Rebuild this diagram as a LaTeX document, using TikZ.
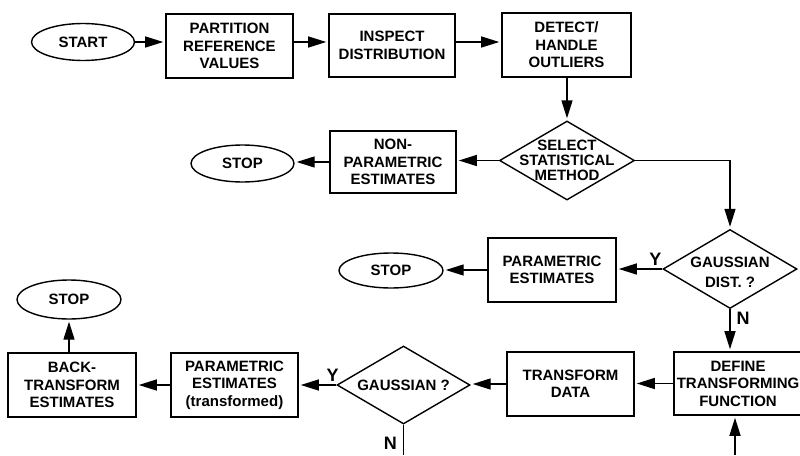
\documentclass[tikz,border=0pt]{standalone}
\usepackage{fontspec}
\setmainfont{Liberation Sans}
\usetikzlibrary{shapes.geometric,arrows.meta}
\begin{document}
\begin{tikzpicture}[x=1pt,y=-1pt,
  every node/.style={font=\bfseries\fontsize{15}{17.5}\selectfont, align=center},
  box/.style={draw, line width=1.6pt, rectangle, minimum width=127pt, minimum height=64pt, inner sep=0pt},
  oval/.style={draw, line width=1.4pt, ellipse, minimum width=103pt, minimum height=37pt, inner sep=0pt},
  dia/.style={draw, line width=1.4pt, diamond, minimum width=134pt, minimum height=79pt, inner sep=0pt},
  diatext/.style={font=\bfseries\fontsize{15}{15}\selectfont, align=center},
  arr/.style={line width=1.4pt, -{Triangle[length=18pt,width=11pt]}, shorten >=2pt},
  plain/.style={line width=1.4pt},
  lbl/.style={font=\bfseries\fontsize{18}{18}\selectfont, inner sep=1pt}
]
\useasboundingbox (0,0) rectangle (800,455);

% nodes
\node[oval] (start) at (83,42) {START};
\node[box] (part) at (229.5,46) {PARTITION\\REFERENCE\\VALUES};
\node[box, minimum width=126pt, minimum height=63pt] (insp) at (392,45.5) {INSPECT\\DISTRIBUTION};
\node[box, minimum width=129pt] (det) at (566.5,45) {DETECT/\\HANDLE\\OUTLIERS};
\node[dia, minimum width=135pt, label={[diatext]center:SELECT\\STATISTICAL\\METHOD}] (sel) at (567,160.5) {};
\node[box, minimum width=126pt, minimum height=62pt] (nonpar) at (393,162) {NON-\\PARAMETRIC\\ESTIMATES};
\node[oval] (stop1) at (242.5,163.5) {STOP};
\node[dia, label={[diatext, font=\bfseries\fontsize{15}{20}\selectfont, yshift=-3pt]center:GAUSSIAN\\DIST. ?}] (g1) at (730,269) {};
\node[box, minimum width=128pt] (par) at (552,270) {PARAMETRIC\\ESTIMATES};
\node[oval, minimum width=104pt, minimum height=35pt] (stop2) at (391,270.5) {STOP};
\node[box, minimum width=128pt, minimum height=63pt] (def) at (738,383.5) {DEFINE\\TRANSFORMING\\FUNCTION};
\node[box] (trans) at (570.5,384) {TRANSFORM\\DATA};
\node[dia, minimum width=133pt, minimum height=78pt, label={[diatext]center:GAUSSIAN ?}] (g2) at (403.5,385) {};
\node[box] (partr) at (234.5,385) {PARAMETRIC\\ESTIMATES\\(transformed)};
\node[box, minimum width=128pt] (back) at (72,385) {BACK-\\TRANSFORM\\ESTIMATES};
\node[oval, minimum width=104pt, minimum height=39pt] (stop3) at (69,299.5) {STOP};
\coordinate (g2bot) at (403.5,455);
\coordinate (defin) at (735,455);

% connectors
\draw[arr] (start.east) -- (start.east -| part.west);
\draw[arr] ([yshift=4pt]part.east) -- ([yshift=4pt]part.east -| insp.west);
\draw[arr] ([yshift=3.5pt]insp.east) -- ([yshift=3.5pt]insp.east -| det.west);
\draw[arr] (det.south -| sel.north) -- (sel.north);
\draw[arr] (sel.west) -- (sel.west -| nonpar.east);
\draw[arr] (nonpar.west) -- (nonpar.west -| stop1.east);
\draw[arr] (sel.east) -| (g1.north);
\draw[arr] (g1.west) -- node[lbl, pos=0.15, above=2pt] {Y} (g1.west -| par.east);
\draw[arr] (par.west) -- (par.west -| stop2.east);
\draw[arr] (g1.south) -- node[lbl, pos=0.22, right=5pt] {N} (g1.south |- def.north);
\draw[arr] (def.west) -- (def.west -| trans.east);
\draw[arr] (trans.west) -- (trans.west -| g2.east);
\draw[arr] (g2.west) -- node[lbl, pos=0.1, above=2pt] {Y} (g2.west -| partr.east);
\draw[arr] (partr.west) -- (partr.west -| back.east);
\draw[arr] (stop3.south |- back.north) -- (stop3.south);
\draw[plain] (g2.south) -- node[lbl, pos=0.6, left=5pt] {N} (g2bot);
\draw[arr] (defin) -- (defin |- def.south);
\end{tikzpicture}
\end{document}
